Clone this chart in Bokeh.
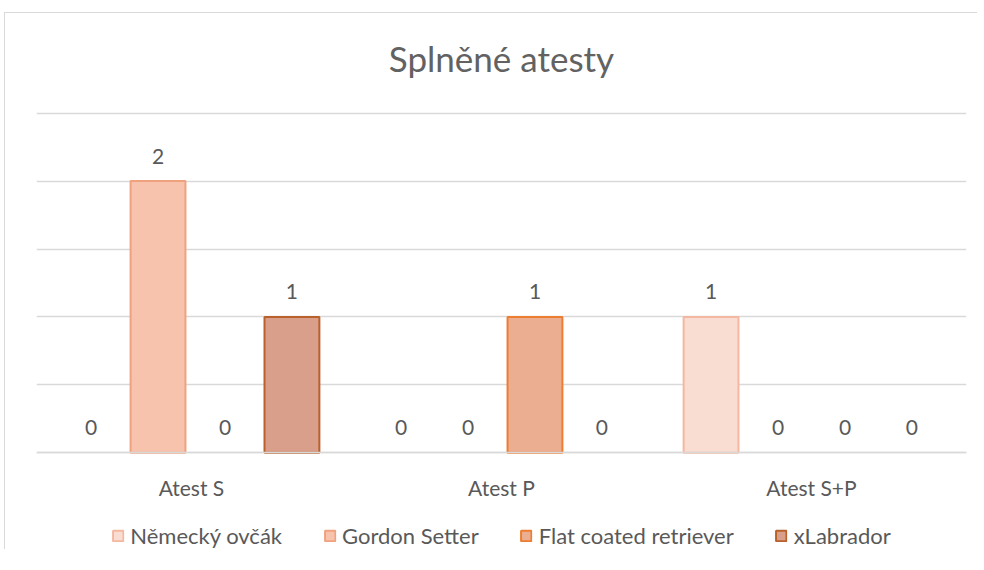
from bokeh.plotting import figure
from bokeh.models import ColumnDataSource, Range1d, FixedTicker, Legend, LegendItem, Label
from bokeh.embed import file_html
from bokeh.resources import INLINE
from bokeh.core.properties import value

title = "Splněné atesty"
categories = ["Atest S", "Atest P", "Atest S+P"]
series = ["Německý ovčák", "Gordon Setter", "Flat coated retriever", "xLabrador"]
nemecky_ovcak = [0, 0, 1]
gordon_setter = [2, 0, 0]
flat_coated = [0, 1, 0]
xlabrador = [1, 0, 0]
y_ticks = [0, 0.5, 1, 1.5, 2, 2.5]

values = [nemecky_ovcak, gordon_setter, flat_coated, xlabrador]
fills = ["#f9ddd2", "#f7c3ad", "#ebae90", "#da9f8a"]
lines = ["#f4b8a0", "#f0a27f", "#ed7d31", "#b9612b"]

FONT = "Lato"
GRAY = "#595959"

p = figure(frame_width=930, frame_height=536, output_backend="svg", toolbar_location=None,
           x_range=Range1d(0, 3), y_range=Range1d(-0.711, 3.233),
           min_border_left=31, min_border_right=11, min_border_top=0, min_border_bottom=0)
p.margin = (12, 0, 0, 4)

p.add_layout(Label(x=1.5, y=2.905, text=title, text_font=FONT, text_font_size="35px",
                   text_color="#626262", text_align="center", text_baseline="middle"))

p.outline_line_color = None
p.xgrid.visible = False
p.ygrid.ticker = FixedTicker(ticks=y_ticks)
p.ygrid.grid_line_color = "#d9d9d9"
p.ygrid.grid_line_width = 1.5
p.yaxis.visible = False

p.xaxis.fixed_location = 0
p.xaxis.ticker = FixedTicker(ticks=[i + 0.5 for i in range(len(categories))])
p.xaxis.major_label_overrides = {i + 0.5: c for i, c in enumerate(categories)}
p.xaxis.major_tick_line_color = None
p.xaxis.minor_tick_line_color = None
p.xaxis.axis_line_color = "#d9d9d9"
p.xaxis.axis_line_width = 1.5
p.xaxis.major_label_text_font = FONT
p.xaxis.major_label_text_font_size = "21px"
p.xaxis.major_label_text_color = GRAY
p.xaxis.major_label_standoff = 16

step = 0.216
bw = 0.177
items = []
for j, (name, vals) in enumerate(zip(series, values)):
    xs = [i + 0.5 + (j - 1.5) * step for i in range(len(categories))]
    src = ColumnDataSource(dict(x=xs, top=vals, lab=[str(v) for v in vals],
                                la=[1.0 if v > 0 else 0.0 for v in vals]))
    r = p.vbar(x="x", top="top", width=bw, bottom=0, source=src,
               fill_color=fills[j], line_color=lines[j], line_alpha="la", line_width=2)
    p.text(x="x", y="top", text="lab", source=src, text_font=value(FONT),
           text_font_size="21px", text_color=GRAY, text_align="center",
           text_baseline="middle", y_offset=-25)
    idx = next(k for k, v in enumerate(vals) if v > 0)
    items.append(LegendItem(label=name, renderers=[r], index=idx))

legend = Legend(items=items, orientation="horizontal", location="bottom_center",
                label_text_font=FONT, label_text_font_size="22px", label_text_color=GRAY,
                glyph_width=13, glyph_height=13, label_standoff=6, spacing=41,
                border_line_color=None, background_fill_alpha=0, padding=5, margin=0)
p.add_layout(legend, "center")

p.styles = {"border-left": "1px solid #d9d9d9", "border-top": "1px solid #d9d9d9"}

open("out.html", "w").write(file_html(p, INLINE))
